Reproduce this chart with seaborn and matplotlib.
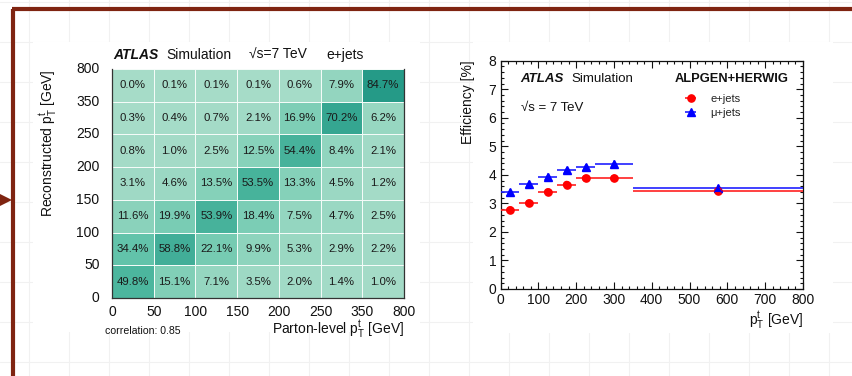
import numpy as np
import pandas as pd
import matplotlib
matplotlib.use("Agg")
import matplotlib.pyplot as plt
import seaborn as sns
from matplotlib.colors import LinearSegmentedColormap
from matplotlib.lines import Line2D
from matplotlib.patches import Polygon, Rectangle
from matplotlib.ticker import MultipleLocator

# ---------------- data ----------------
bin_edges = [0, 50, 100, 150, 200, 250, 350, 800]
bin_labels = ["0", "50", "100", "150", "200", "250", "350", "800"]
# migration matrix rows from top (reco 350-800) to bottom (reco 0-50), in %
row_350_800 = [0.0, 0.1, 0.1, 0.1, 0.6, 7.9, 84.7]
row_250_350 = [0.3, 0.4, 0.7, 2.1, 16.9, 70.2, 6.2]
row_200_250 = [0.8, 1.0, 2.5, 12.5, 54.4, 8.4, 2.1]
row_150_200 = [3.1, 4.6, 13.5, 53.5, 13.3, 4.5, 1.2]
row_100_150 = [11.6, 19.9, 53.9, 18.4, 7.5, 4.7, 2.5]
row_50_100 = [34.4, 58.8, 22.1, 9.9, 5.3, 2.9, 2.2]
row_0_50 = [49.8, 15.1, 7.1, 3.5, 2.0, 1.4, 1.0]

bin_centers = [25, 75, 125, 175, 225, 300, 575]
bin_halfwidths = [25, 25, 25, 25, 25, 50, 225]
eff_ejets = [2.77, 3.01, 3.40, 3.66, 3.88, 3.88, 3.45]
eff_mujets = [3.39, 3.68, 3.94, 4.17, 4.26, 4.39, 3.53]

# ---------------- style ----------------
sns.set_theme(style="white")
plt.rcParams["font.family"] = ["Liberation Sans", "DejaVu Sans"]
plt.rcParams["mathtext.fontset"] = "custom"
plt.rcParams["mathtext.rm"] = "Liberation Sans"
plt.rcParams["mathtext.it"] = "Liberation Sans:italic"
plt.rcParams["mathtext.bf"] = "Liberation Sans:bold"

W, H = 852, 376
fig = plt.figure(figsize=(W / 100, H / 100), dpi=100)
fig.patch.set_facecolor("white")

def fx(px):
    return px / W

def fy(py):
    return 1 - py / H

# faint background grid of the slide
gcol = "#f1f1f1"
for x in range(29, W, 40):
    fig.add_artist(Line2D([fx(x), fx(x)], [0, 1], color=gcol, lw=0.8, zorder=-3))
for y in range(2, H, 40):
    fig.add_artist(Line2D([0, 1], [fy(y), fy(y)], color=gcol, lw=0.8, zorder=-3))
# white image boxes
fig.add_artist(Rectangle((fx(33), fy(332)), fx(420) - fx(33), fy(42) - fy(332),
                         facecolor="white", edgecolor="none", zorder=-2))
fig.add_artist(Rectangle((fx(473), fy(333)), fx(833) - fx(473), fy(42) - fy(333),
                         facecolor="white", edgecolor="none", zorder=-2))

# brown frame and arrow
brown = "#7f2411"
fig.add_artist(Line2D([fx(13), fx(13)], [0, fy(8.5)], color=brown, lw=3.0, zorder=5,
                      solid_capstyle="butt"))
fig.add_artist(Line2D([fx(11.5), 1], [fy(8.5), fy(8.5)], color=brown, lw=3.0, zorder=5,
                      solid_capstyle="butt"))
fig.add_artist(Polygon([[fx(0), fy(194)], [fx(12), fy(200)], [fx(0), fy(206)]],
                       closed=True, facecolor=brown, edgecolor="none", zorder=5))

# ---------------- left: migration heatmap ----------------
matrix = pd.DataFrame([row_350_800, row_250_350, row_200_250, row_150_200,
                       row_100_150, row_50_100, row_0_50])
annot = matrix.map(lambda v: f"{v:.1f}%")

cmap = LinearSegmentedColormap.from_list(
    "atlas_teal",
    [(0.0, "#a6dcc8"), (0.18, "#80cfb7"), (0.40, "#63c3aa"),
     (0.58, "#4cb69e"), (0.70, "#41ae98"), (1.0, "#259a87")])

ax1 = fig.add_axes([fx(112), fy(298), fx(404) - fx(112), fy(69) - fy(298)])
sns.heatmap(matrix, ax=ax1, cmap=cmap, vmin=0, vmax=85, cbar=False,
            annot=annot, fmt="", linewidths=0.7, linecolor="#f4fbf8",
            annot_kws={"fontsize": 8.2, "color": "#1a1a1a"})
ax1.set_xticks(np.arange(8))
ax1.set_xticklabels(bin_labels, fontsize=10, color="#111111")
ax1.set_yticks(np.arange(8))
ax1.set_yticklabels(bin_labels[::-1], fontsize=10, color="#111111", rotation=0)
ax1.tick_params(axis="x", length=0, pad=5)
ax1.tick_params(axis="y", length=0, pad=9)
ax1.set_xlabel("")
ax1.set_ylabel("")
for side in ["left", "bottom", "right"]:
    ax1.spines[side].set_visible(True)
    ax1.spines[side].set_color("#333333")
    ax1.spines[side].set_linewidth(0.9)
ax1.spines["top"].set_visible(False)

fig.text(fx(113), fy(55), "ATLAS", fontsize=10, fontweight="bold", fontstyle="italic",
         ha="left", va="center", color="#111111")
fig.text(fx(166), fy(55), "Simulation", fontsize=10, ha="left", va="center", color="#111111")
fig.text(fx(249), fy(55), "\u221as=7 TeV", fontsize=10, ha="left", va="center", color="#111111")
fig.text(fx(326), fy(55), "e+jets", fontsize=10, ha="left", va="center", color="#111111")
fig.text(fx(48), fy(69), r"Reconstructed p$_{\mathrm{T}}^{\mathrm{t}}$ [GeV]", fontsize=10,
         rotation=90, ha="center", va="top", color="#111111")
fig.text(fx(404), fy(329), r"Parton-level p$_{\mathrm{T}}^{\mathrm{t}}$ [GeV]", fontsize=10,
         ha="right", va="center", color="#111111")
fig.text(fx(105), fy(331), "correlation: 0.85", fontsize=7.6, ha="left", va="center",
         color="#111111")

# ---------------- right: efficiency ----------------
ax2 = fig.add_axes([fx(500.5), fy(289), fx(803) - fx(500.5), fy(60.7) - fy(289)])
ax2.set_facecolor("white")
eb1 = ax2.errorbar(bin_centers, eff_ejets, xerr=bin_halfwidths, fmt="o", color="#ff0000",
                   ecolor="#ff2020", elinewidth=1.2, markersize=5.2, capsize=0,
                   label="e+jets", zorder=3)
eb2 = ax2.errorbar(bin_centers, eff_mujets, xerr=bin_halfwidths, fmt="^", color="#0000ff",
                   ecolor="#2020ff", elinewidth=1.2, markersize=5.2, capsize=0,
                   label="\u03bc+jets", zorder=3)
sns.scatterplot(x=bin_centers, y=eff_ejets, ax=ax2, color="#ff0000", marker="o", s=30,
                edgecolor="none", zorder=4, legend=False)
sns.scatterplot(x=bin_centers, y=eff_mujets, ax=ax2, color="#0000ff", marker="^", s=30,
                edgecolor="none", zorder=4, legend=False)

ax2.set_xlim(0, 800)
ax2.set_ylim(0, 8)
ax2.xaxis.set_major_locator(MultipleLocator(100))
ax2.xaxis.set_minor_locator(MultipleLocator(20))
ax2.yaxis.set_major_locator(MultipleLocator(1))
ax2.yaxis.set_minor_locator(MultipleLocator(0.2))
ax2.tick_params(which="both", direction="in", top=True, right=True, bottom=True, left=True,
                color="#111111", width=0.8, labelsize=10, labelcolor="#111111")
ax2.tick_params(which="major", length=5, pad=3)
ax2.tick_params(which="minor", length=2.5)
for s in ax2.spines.values():
    s.set_visible(True)
    s.set_color("#111111")
    s.set_linewidth(0.9)
ax2.grid(False)

fig.text(fx(520), fy(79), "ATLAS", fontsize=9.5, fontweight="bold", fontstyle="italic",
         ha="left", va="center", color="#111111")
fig.text(fx(571), fy(79), "Simulation", fontsize=9.5, ha="left", va="center", color="#111111")
fig.text(fx(521), fy(108), "\u221as = 7 TeV", fontsize=9.5, ha="left", va="center",
         color="#111111")
fig.text(fx(675), fy(79), "ALPGEN+HERWIG", fontsize=9.3, fontweight="bold", ha="left",
         va="center", color="#111111")
fig.text(fx(468), fy(60), "Efficiency [%]", fontsize=10, rotation=90, ha="center",
         va="top", color="#111111")
fig.text(fx(803), fy(320), r"p$_{\mathrm{T}}^{\mathrm{t}}$ [GeV]", fontsize=10,
         ha="right", va="center", color="#111111")

ax2.legend(handles=[eb1, eb2], labels=["e+jets", "\u03bc+jets"], loc="upper left",
           bbox_to_anchor=(fx(678), fy(94)), bbox_transform=fig.transFigure,
           frameon=False, fontsize=8, handlelength=2.3, handletextpad=0.6,
           borderpad=0, borderaxespad=0, labelspacing=0.35, labelcolor="#222222")

fig.savefig("out.png", dpi=100, facecolor="white")
